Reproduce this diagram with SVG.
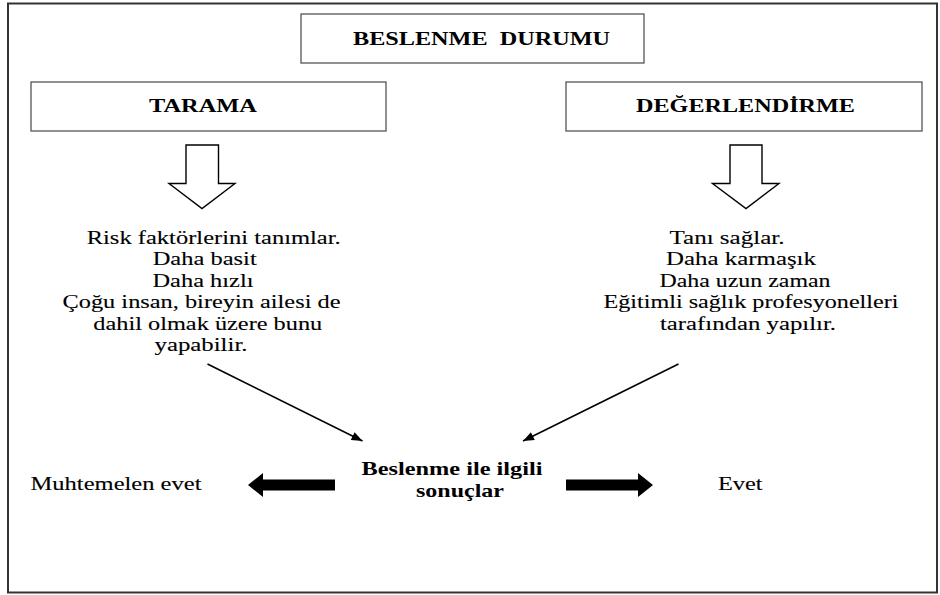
<svg xmlns="http://www.w3.org/2000/svg" width="940" height="595" viewBox="0 0 940 595">
<defs>
<style>
text{font-family:"Liberation Serif","Times New Roman",serif;fill:#000}
.h{font-size:19px;font-weight:bold;text-anchor:middle}
.b{font-size:18px;text-anchor:middle;stroke:#000;stroke-width:0.1}
.bb{font-size:18px;font-weight:bold;text-anchor:middle}
.box{fill:#fff;stroke:#555;stroke-width:1.3}
.hollow{fill:#fff;stroke:#000;stroke-width:1.4;stroke-linejoin:miter}
.diag{stroke:#000;stroke-width:1.6;fill:none}
.thick{fill:#000}
</style>
<marker id="ah" viewBox="0 0 10 8" refX="10" refY="4" markerWidth="11" markerHeight="9" markerUnits="userSpaceOnUse" orient="auto">
<path d="M0,0 L10,4 L0,8 z" fill="#000"/>
</marker>
</defs>
<rect x="0" y="0" width="940" height="595" fill="#fff"/>
<rect x="8" y="3.5" width="929" height="589" fill="none" stroke="#333" stroke-width="2"/>

<g id="node-beslenme-durumu">
<rect class="box" x="301" y="14" width="343" height="49"/>
<text class="h" transform="scale(1.355,1)" x="355.35" y="45.5" textLength="189.67" lengthAdjust="spacingAndGlyphs" xml:space="preserve">BESLENME  DURUMU</text>
</g>

<g id="node-tarama">
<rect class="box" x="31" y="82" width="355" height="49"/>
<text class="h" transform="scale(1.355,1)" x="149.82" y="112.5" textLength="79.7" lengthAdjust="spacingAndGlyphs">TARAMA</text>
</g>

<g id="node-degerlendirme">
<rect class="box" x="566" y="82" width="356" height="49"/>
<text class="h" transform="scale(1.355,1)" x="550.18" y="112.5" textLength="161.62" lengthAdjust="spacingAndGlyphs">DEĞERLENDİRME</text>
</g>

<g id="node-tarama-ozellikleri" transform="scale(1.355,1)">
<text class="b" x="157.71" y="244" textLength="187.45" lengthAdjust="spacingAndGlyphs">Risk faktörlerini tanımlar.</text>
<text class="b" x="151.07" y="265.5" textLength="76.75" lengthAdjust="spacingAndGlyphs">Daha basit</text>
<text class="b" x="149.82" y="287" textLength="74.54" lengthAdjust="spacingAndGlyphs">Daha hızlı</text>
<text class="b" x="148.71" y="308.5" textLength="205.17" lengthAdjust="spacingAndGlyphs">Çoğu insan, bireyin ailesi de</text>
<text class="b" x="153.36" y="330" textLength="169" lengthAdjust="spacingAndGlyphs">dahil olmak üzere bunu</text>
<text class="b" x="148.34" y="351.5" textLength="68.63" lengthAdjust="spacingAndGlyphs">yapabilir.</text>
</g>

<g id="node-degerlendirme-ozellikleri" transform="scale(1.355,1)">
<text class="b" x="536.53" y="244" textLength="84.87" lengthAdjust="spacingAndGlyphs">Tanı sağlar.</text>
<text class="b" x="546.86" y="265.5" textLength="110.7" lengthAdjust="spacingAndGlyphs">Daha karmaşık</text>
<text class="b" x="549.82" y="287" textLength="126.2" lengthAdjust="spacingAndGlyphs">Daha uzun zaman</text>
<text class="b" x="554.24" y="308.5" textLength="217.71" lengthAdjust="spacingAndGlyphs">Eğitimli sağlık profesyonelleri</text>
<text class="b" x="552.03" y="330" textLength="129.89" lengthAdjust="spacingAndGlyphs">tarafından yapılır.</text>
</g>

<g id="node-sonuclar" transform="scale(1.355,1)">
<text class="bb" x="333.58" y="475" textLength="133.58" lengthAdjust="spacingAndGlyphs">Beslenme ile ilgili</text>
<text class="bb" x="339.48" y="497" textLength="64.94" lengthAdjust="spacingAndGlyphs">sonuçlar</text>
</g>

<g id="node-muhtemelen-evet" transform="scale(1.355,1)">
<text class="b" x="85.61" y="490.5" textLength="126.2" lengthAdjust="spacingAndGlyphs">Muhtemelen evet</text>
</g>

<g id="node-evet" transform="scale(1.355,1)">
<text class="b" x="546.35" y="490.5" textLength="32.92" lengthAdjust="spacingAndGlyphs">Evet</text>
</g>

<g id="connectors">
<polygon class="hollow" points="186,145 218.5,145 218.5,183.5 235,183.5 202,208.5 169,183.5 186,183.5"/>
<polygon class="hollow" points="730,145 762,145 762,183.5 779,183.5 746,208.5 712.5,183.5 730,183.5"/>
<line class="diag" x1="207.5" y1="364" x2="362.5" y2="441" marker-end="url(#ah)"/>
<line class="diag" x1="678.5" y1="364" x2="523" y2="441" marker-end="url(#ah)"/>
<polygon class="thick" points="248,485 263,473 263,479.5 335,479.5 335,490.5 263,490.5 263,497"/>
<polygon class="thick" points="566,479.5 638,479.5 638,473 653,485 638,497 638,490.5 566,490.5"/>
</g>
</svg>
